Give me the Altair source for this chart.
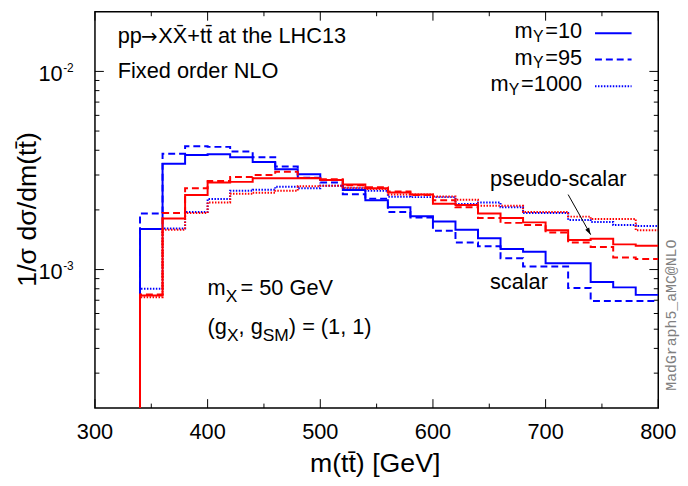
import altair as alt
import pandas as pd

FONT = "Liberation Sans"
MONO = "Liberation Mono"
BLUE = "#0000ff"
RED = "#ff0000"

# ---------------- data ----------------
# left bin edges of m(tt) [GeV]; last entry is the right end of the last bin
bin_edges = [340, 360, 380, 400, 420, 440, 460, 480, 500, 520, 540, 560,
             580, 600, 620, 640, 660, 680, 700, 720, 740, 760, 780, 800]
empty_bin_left = 320      # bin below threshold (empty)
empty_bin_value = 1e-6    # effectively zero, below the plotted range

# scalar mediator
scalar_10 = [1.60e-3, 3.42e-3, 3.79e-3, 3.82e-3, 3.69e-3, 3.49e-3, 3.21e-3, 3.03e-3,
             2.83e-3, 2.52e-3, 2.24e-3, 2.06e-3, 1.86e-3, 1.75e-3, 1.59e-3, 1.44e-3,
             1.27e-3, 1.23e-3, 1.076e-3, 1.076e-3, 0.866e-3, 0.813e-3, 0.745e-3]
scalar_95 = [1.92e-3, 3.84e-3, 4.19e-3, 4.16e-3, 3.94e-3, 3.69e-3, 3.31e-3, 2.91e-3,
             2.75e-3, 2.40e-3, 2.28e-3, 1.95e-3, 1.83e-3, 1.57e-3, 1.37e-3, 1.31e-3,
             1.14e-3, 1.035e-3, 1.035e-3, 0.808e-3, 0.694e-3, 0.694e-3, 0.694e-3]
scalar_1000 = [0.801e-3, 1.61e-3, 1.95e-3, 2.27e-3, 2.50e-3, 2.53e-3, 2.62e-3, 2.57e-3,
               2.65e-3, 2.57e-3, 2.50e-3, 2.33e-3, 2.32e-3, 2.32e-3, 2.14e-3, 2.18e-3,
               2.06e-3, 1.93e-3, 1.93e-3, 1.78e-3, 1.74e-3, 1.68e-3, 1.66e-3]
# pseudo-scalar mediator
pseudo_10 = [0.739e-3, 1.81e-3, 2.38e-3, 2.75e-3, 2.77e-3, 2.89e-3, 2.89e-3, 2.89e-3,
             2.83e-3, 2.69e-3, 2.57e-3, 2.45e-3, 2.39e-3, 2.15e-3, 2.12e-3, 1.92e-3,
             1.82e-3, 1.73e-3, 1.58e-3, 1.41e-3, 1.43e-3, 1.34e-3, 1.32e-3]
pseudo_95 = [0.748e-3, 1.93e-3, 2.57e-3, 2.80e-3, 2.93e-3, 3.00e-3, 3.12e-3, 2.90e-3,
             2.86e-3, 2.66e-3, 2.60e-3, 2.48e-3, 2.38e-3, 2.24e-3, 2.06e-3, 1.82e-3,
             1.72e-3, 1.68e-3, 1.54e-3, 1.37e-3, 1.30e-3, 1.15e-3, 1.13e-3]
pseudo_1000 = [0.725e-3, 1.59e-3, 1.93e-3, 2.18e-3, 2.41e-3, 2.44e-3, 2.50e-3, 2.63e-3,
               2.65e-3, 2.59e-3, 2.55e-3, 2.39e-3, 2.39e-3, 2.34e-3, 2.25e-3, 2.10e-3,
               2.10e-3, 1.95e-3, 1.95e-3, 1.85e-3, 1.80e-3, 1.80e-3, 1.58e-3]

legend_masses = ["10", "95", "1000"]

x_major = [300, 400, 500, 600, 700, 800]
x_minor = [350, 450, 550, 650, 750]
y_major = [1e-3, 1e-2]
y_major_exp = ["-3", "-2"]
y_minor = [3e-4, 4e-4, 5e-4, 6e-4, 7e-4, 8e-4, 9e-4,
           2e-3, 3e-3, 4e-3, 5e-3, 6e-3, 7e-3, 8e-3, 9e-3]

arrow_x = [720, 740]
arrow_y = [2.39e-3, 1.50e-3]

# ---------------- chart ----------------
W, H = 570, 401
xs = alt.Scale(domain=[300, 800], nice=False, zero=False)
ys = alt.Scale(type="log", domain=[2e-4, 2e-2], nice=False)
one = pd.DataFrame({"k": [0]})

SOLID = dict(strokeWidth=2)
DASHED = dict(strokeWidth=2, strokeDash=[7, 4])
DOTTED = dict(strokeWidth=2, strokeDash=[1.5, 1.5])
STYLES = [SOLID, DASHED, DOTTED]


def hist(vals, color, style):
    df = pd.DataFrame({"m": [empty_bin_left] + bin_edges,
                       "v": [empty_bin_value] + vals + [vals[-1]]})
    return alt.Chart(df).mark_line(interpolate="step-after", color=color,
                                   clip=True, **style).encode(
        x=alt.X("m:Q", scale=xs, axis=None),
        y=alt.Y("v:Q", scale=ys, axis=None))


def rules_x(vals, y1, y2):
    return alt.Chart(pd.DataFrame({"m": vals})).mark_rule(
        color="black", strokeWidth=1).encode(
        x=alt.X("m:Q", scale=xs, axis=None), y=alt.value(y1), y2=alt.value(y2))


def rules_y(vals, x1, x2):
    return alt.Chart(pd.DataFrame({"v": vals})).mark_rule(
        color="black", strokeWidth=1).encode(
        y=alt.Y("v:Q", scale=ys, axis=None), x=alt.value(x1), x2=alt.value(x2))


def label(s, x, y, size=22, align="left", angle=0, font=FONT,
          color="black", baseline="alphabetic"):
    return alt.Chart(one).mark_text(
        text=s, align=align, baseline=baseline, fontSize=size, font=font,
        color=color, angle=angle).encode(x=alt.value(x), y=alt.value(y))


MAJ, MIN = 9, 4.5
layers = [
    rules_x(x_major, H, H - MAJ), rules_x(x_minor, H, H - MIN),
    rules_x(x_major, 0, MAJ), rules_x(x_minor, 0, MIN),
    rules_y(y_major, 0, MAJ), rules_y(y_minor, 0, MIN),
    rules_y(y_major, W, W - MAJ), rules_y(y_minor, W, W - MIN),
]

for vals, st in zip([scalar_10, scalar_95, scalar_1000], STYLES):
    layers.append(hist(vals, BLUE, st))
for vals, st in zip([pseudo_10, pseudo_95, pseudo_1000], STYLES):
    layers.append(hist(vals, RED, st))

# x tick labels
xlab = pd.DataFrame({"m": x_major, "lab": [str(v) for v in x_major]})
layers.append(alt.Chart(xlab).mark_text(
    align="center", baseline="alphabetic", fontSize=22, font=FONT).encode(
    x=alt.X("m:Q", scale=xs, axis=None), y=alt.value(432.3), text="lab:N"))

# y tick labels 10^n
ylab = pd.DataFrame({"v": y_major, "exp": y_major_exp})
layers.append(alt.Chart(ylab).mark_text(
    align="right", baseline="alphabetic", fontSize=22, font=FONT, dy=9.5,
    text="10").encode(y=alt.Y("v:Q", scale=ys, axis=None), x=alt.value(-32.7)))
layers.append(alt.Chart(ylab).mark_text(
    align="left", baseline="alphabetic", fontSize=12, font=FONT, dy=0.5).encode(
    y=alt.Y("v:Q", scale=ys, axis=None), x=alt.value(-32.2), text="exp:N"))

# axis titles
layers.append(label("m(tt\u0304) [GeV]", 283.5, 465.7, size=27, align="center"))
layers.append(label("1/\u03c3 d\u03c3/dm(tt\u0304)", -59.3, 200, size=27,
                    align="center", angle=270))

# annotations
layers.append(label("pp", 23, 31.7))
layers.append(label("\u2192", 46.5, 31.7, size=20, font="DejaVu Sans"))
layers.append(label("XX\u0304+tt\u0304 at the LHC13", 64, 31.7))
layers.append(label("Fixed order NLO", 23, 67))

layers.append(label("m", 114, 287))
layers.append(label("X", 132.3, 294, size=17.6))
layers.append(label("= 50 GeV", 147.3, 287))

layers.append(label("(g", 114, 326.5))
layers.append(label("X", 133.6, 333.5, size=17.6))
layers.append(label(", g", 145.3, 326.5))
layers.append(label("SM", 169.8, 333.5, size=17.6))
layers.append(label(") = (1, 1)", 196.2, 326.5))

layers.append(label("pseudo-scalar", 399.7, 176))
layers.append(label("scalar", 399.7, 280.7))

# arrow
arrow_df = pd.DataFrame({"m": [arrow_x[0]], "m2": [arrow_x[1]],
                         "v": [arrow_y[0]], "v2": [arrow_y[1]]})
layers.append(alt.Chart(arrow_df).mark_rule(color="black", strokeWidth=1).encode(
    x=alt.X("m:Q", scale=xs, axis=None), x2="m2:Q",
    y=alt.Y("v:Q", scale=ys, axis=None), y2="v2:Q"))
head_df = pd.DataFrame({"m": [arrow_x[1]], "v": [arrow_y[1]]})
layers.append(alt.Chart(head_df).mark_point(
    shape="M0,0L-0.45,-1.4L0.45,-1.4Z", filled=True, color="black",
    size=100, angle=330.4, opacity=1).encode(
    x=alt.X("m:Q", scale=xs, axis=None), y=alt.Y("v:Q", scale=ys, axis=None)))

# legend (right-aligned labels with subscript Y, then line sample)
legend_y = [27, 53.7, 80.3]
legend_line_y = [21.7, 48.3, 75.3]
for mass, by, ly, st in zip(legend_masses, legend_y, legend_line_y, STYLES):
    eq = "=" + mass
    w_eq = 22 * (0.584 + 0.556 * len(mass))
    x_eq = 493 - w_eq
    x_y = x_eq - 12.5
    x_m = x_y - 18.6
    layers.append(label("m", x_m, by))
    layers.append(label("Y", x_y, by + 3.5, size=16))
    layers.append(label(eq, x_eq, by))
    layers.append(alt.Chart(one).mark_rule(color=BLUE, **st).encode(
        x=alt.value(506), x2=alt.value(543), y=alt.value(ly)))

# watermark
layers.append(label("MadGraph5_aMC@NLO", 583, 307, size=15, align="center",
                    angle=270, font=MONO, color="#808080", baseline="middle"))

chart = alt.layer(*layers).properties(
    width=W, height=H,
    padding={"left": 88, "top": 1, "right": 22, "bottom": 70},
    autosize=alt.AutoSizeParams(type="none"),
).configure_view(stroke="black", strokeWidth=1.5)

chart.save("out.html", embed_options={"renderer": "svg", "actions": False})
